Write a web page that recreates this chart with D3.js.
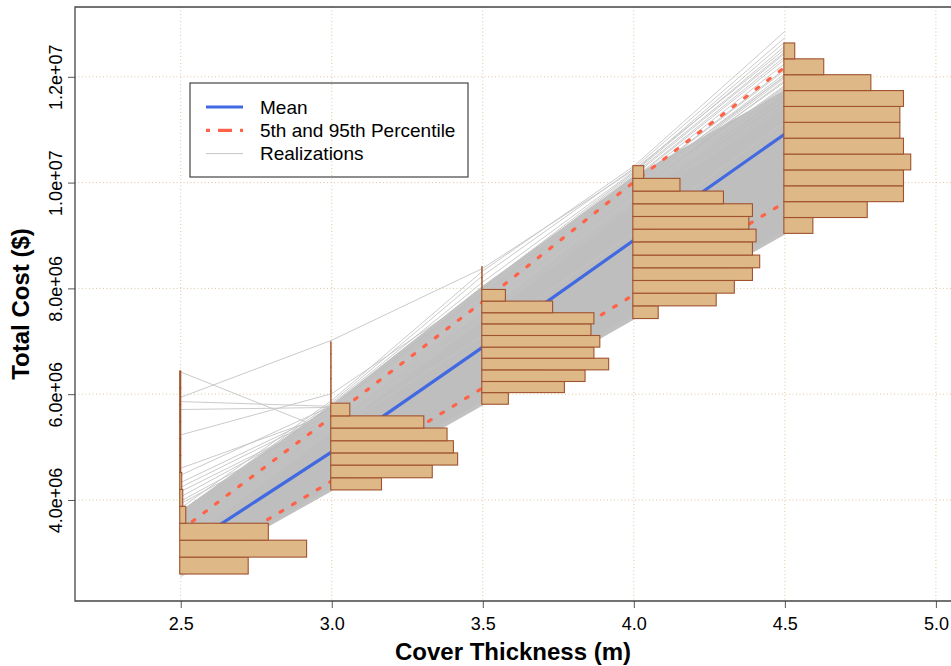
<!DOCTYPE html>
<html>
<head>
<meta charset="utf-8">
<script src="https://cdn.jsdelivr.net/npm/d3@7"></script>
<style>
  body { margin: 0; background: #fff; }
  svg { display: block; font-family: "Liberation Sans", Arial, sans-serif; }
</style>
</head>
<body>
<svg id="chart"></svg>
<script>
// all costs are in millions of dollars
const thickness = [2.5, 3.0, 3.5, 4.0, 4.5];
const meanCost = [3.05, 4.91, 6.89, 8.91, 10.92];
const p05Cost = [2.64, 4.36, 6.12, 7.88, 9.63];
const p95Cost = [3.43, 5.57, 7.75, 10.01, 12.18];

// envelope of the dense bundle of realizations
const bundleLow = [2.57, 4.17, 5.79, 7.41, 9.02];
const bundleHigh = [3.80, 5.80, 8.05, 10.12, 11.75];

// individual realizations that show outside / at the edge of the bundle
const realizations = [
  [6.42, 5.28, 7.10, 9.05, 11.15],
  [5.94, 7.02, 8.38, 10.24, 12.52],
  [5.86, 5.77, 7.62, 9.72, 11.82],
  [5.71, 5.75, 7.55, 9.66, 11.73],
  [5.23, 6.01, 7.95, 10.08, 12.38],
  [4.60, 5.63, 7.71, 9.86, 12.02],
  [4.47, 5.78, 7.98, 10.16, 12.47],
  [4.33, 5.69, 7.80, 9.97, 12.15],
  [4.24, 5.66, 7.74, 9.90, 12.06],
  [4.16, 5.58, 7.66, 9.82, 11.93],
  [4.06, 5.61, 7.69, 9.85, 11.98],
  [3.98, 5.52, 7.60, 9.76, 11.84],
  [3.93, 5.46, 7.56, 9.71, 11.77],
  [3.85, 5.88, 8.33, 10.31, 12.86],
  [3.78, 5.84, 8.24, 10.27, 12.74],
  [3.72, 5.81, 8.12, 10.21, 12.66],
  [3.66, 5.74, 8.02, 10.19, 12.58],
  [3.61, 5.70, 7.93, 10.13, 12.44],
  [3.57, 5.67, 7.87, 10.06, 12.33],
  [3.52, 5.62, 7.83, 10.02, 12.25],
  [3.49, 5.59, 7.77, 9.96, 12.12],
  [3.44, 5.54, 7.72, 9.93, 12.01],
  [3.40, 5.51, 7.68, 9.87, 11.90],
  [3.35, 5.47, 7.63, 9.80, 11.79],
  [3.31, 5.42, 7.57, 9.74, 11.68],
  [3.26, 5.37, 7.51, 9.69, 11.59],
  [3.22, 5.33, 7.46, 9.63, 11.50],
  [3.17, 5.29, 7.42, 9.58, 11.43],
  [2.58, 4.18, 5.80, 7.42, 9.03],
  [2.55, 4.20, 5.83, 7.45, 9.06],
  [2.61, 4.23, 5.86, 7.49, 9.10]
];

// histogram bin edges (bottom to top) and counts, one row per thickness
const histEdges = [
  [2.60, 2.92, 3.24, 3.56, 3.88, 4.20, 4.52, 4.84, 5.16, 5.48, 5.80, 6.12, 6.44],
  [4.19, 4.42, 4.66, 4.89, 5.12, 5.36, 5.59, 5.83, 6.06, 6.29, 6.52, 6.76, 6.99],
  [5.81, 6.03, 6.24, 6.46, 6.68, 6.89, 7.11, 7.33, 7.54, 7.76, 7.98, 8.20, 8.41],
  [7.43, 7.67, 7.91, 8.15, 8.39, 8.63, 8.88, 9.12, 9.36, 9.60, 9.84, 10.08, 10.32],
  [9.04, 9.34, 9.64, 9.94, 10.24, 10.54, 10.84, 11.14, 11.44, 11.74, 12.04, 12.34, 12.64]
];
const histCounts = [
  [68, 126, 88, 6, 3, 2, 1, 1, 1, 1, 1, 1],
  [24, 48, 60, 58, 55, 44, 9, 0, 0, 0, 0, 0],
  [9, 28, 35, 43, 38, 40, 37, 38, 24, 8, 0, 0],
  [7, 23, 28, 33, 35, 33, 34, 32, 33, 25, 13, 3],
  [8, 23, 33, 33, 35, 33, 32, 32, 33, 24, 11, 3]
];

const xTicks = [2.5, 3.0, 3.5, 4.0, 4.5, 5.0];
const xTickLabels = ['2.5', '3.0', '3.5', '4.0', '4.5', '5.0'];
const yTicks = [4, 6, 8, 10, 12];
const yTickLabels = ['4.0e+06', '6.0e+06', '8.0e+06', '1.0e+07', '1.2e+07'];

const legendLabels = ['Mean', '5th and 95th Percentile', 'Realizations'];

class CostPlot {

  constructor(_config) {
    this.config = {
      parentElement: _config.parentElement,
      containerWidth: _config.containerWidth || 951,
      containerHeight: _config.containerHeight || 666,
      margin: _config.margin || {top: 7, right: 0, bottom: 65, left: 75},
      histWidth: 0.42   // widest bar in x units
    };
    this.initVis();
  }

  initVis() {
    let vis = this;

    vis.width = vis.config.containerWidth - vis.config.margin.left - vis.config.margin.right;
    vis.height = vis.config.containerHeight - vis.config.margin.top - vis.config.margin.bottom;

    vis.xScale = d3.scaleLinear()
      .domain([2.15, 5.05])
      .range([0, vis.width]);

    vis.yScale = d3.scaleLinear()
      .domain([2.09, 13.32])
      .range([vis.height, 0]);

    vis.svg = d3.select(vis.config.parentElement)
      .attr('width', vis.config.containerWidth)
      .attr('height', vis.config.containerHeight);

    vis.chart = vis.svg.append('g')
      .attr('transform', `translate(${vis.config.margin.left},${vis.config.margin.top})`);

    vis.renderVis();
  }

  renderVis() {
    let vis = this;
    const x = vis.xScale, y = vis.yScale;

    // dotted grid
    const grid = vis.chart.append('g')
      .attr('stroke', '#dcc6a2')
      .attr('stroke-width', 1)
      .attr('stroke-dasharray', '1,2.5');
    grid.selectAll('.vgrid')
      .data(xTicks)
      .join('line')
      .attr('x1', d => x(d)).attr('x2', d => x(d))
      .attr('y1', 0).attr('y2', vis.height);
    grid.selectAll('.hgrid')
      .data(yTicks)
      .join('line')
      .attr('x1', 0).attr('x2', vis.width)
      .attr('y1', d => y(d)).attr('y2', d => y(d));

    // bundle of realizations
    const band = d3.area()
      .x((d, i) => x(thickness[i]))
      .y0((d, i) => y(bundleLow[i]))
      .y1((d, i) => y(bundleHigh[i]));
    vis.chart.append('path')
      .datum(thickness)
      .attr('d', band)
      .attr('fill', '#bebebe');

    const line = d3.line()
      .x((d, i) => x(thickness[i]))
      .y(d => y(d));

    vis.chart.selectAll('.real')
      .data(realizations)
      .join('path')
      .attr('class', 'real')
      .attr('d', line)
      .attr('fill', 'none')
      .attr('stroke', '#c4c4c4')
      .attr('stroke-width', 0.9);

    // percentile and mean lines
    [p05Cost, p95Cost].forEach(p => {
      vis.chart.append('path')
        .datum(p)
        .attr('d', line)
        .attr('fill', 'none')
        .attr('stroke', '#ff6347')
        .attr('stroke-width', 3.2)
        .attr('stroke-linecap', 'round')
        .attr('stroke-dasharray', '3,11.5');
    });

    vis.chart.append('path')
      .datum(meanCost)
      .attr('d', line)
      .attr('fill', 'none')
      .attr('stroke', '#4169e1')
      .attr('stroke-width', 3.2);

    // histograms at every thickness
    thickness.forEach((t, k) => {
      const edges = histEdges[k];
      const counts = histCounts[k];
      const maxCount = d3.max(counts);
      vis.chart.append('g')
        .selectAll('rect')
        .data(counts)
        .join('rect')
        .attr('x', x(t) - 1)
        .attr('y', (d, j) => y(edges[j + 1]))
        .attr('height', (d, j) => y(edges[j]) - y(edges[j + 1]))
        .attr('width', d => Math.max(0.3, x(t + vis.config.histWidth * d / maxCount) - x(t)))
        .attr('fill', '#deb887')
        .attr('stroke', '#a0522d')
        .attr('stroke-width', 1.1);
    });

    // axes
    const yAxis = d3.axisLeft(y)
      .tickValues(yTicks)
      .tickFormat((d, i) => yTickLabels[i])
      .tickSize(7)
      .tickPadding(7);
    const yAxisG = vis.chart.append('g').call(yAxis);
    yAxisG.select('.domain').remove();
    yAxisG.selectAll('line').attr('stroke', '#555');
    yAxisG.selectAll('text')
      .attr('transform', 'rotate(-90)')
      .attr('x', 0)
      .attr('y', -13.5)
      .attr('dy', 0)
      .attr('text-anchor', 'middle')
      .attr('fill', '#000')
      .style('font-size', '18px');

    const xAxis = d3.axisBottom(x)
      .tickValues(xTicks)
      .tickFormat((d, i) => xTickLabels[i])
      .tickSize(7)
      .tickPadding(9);
    const xAxisG = vis.chart.append('g')
      .attr('transform', `translate(0,${vis.height})`)
      .call(xAxis);
    xAxisG.select('.domain').remove();
    xAxisG.selectAll('line').attr('stroke', '#555');
    xAxisG.selectAll('text')
      .attr('fill', '#000')
      .style('font-size', '18px');

    // frame (left, top, bottom)
    vis.chart.append('path')
      .attr('d', `M${vis.width + 2},0H0V${vis.height}H${vis.width + 2}`)
      .attr('fill', 'none')
      .attr('stroke', '#444')
      .attr('stroke-width', 1.3);

    // axis titles
    vis.chart.append('text')
      .attr('x', vis.width / 2)
      .attr('y', vis.height + 59)
      .attr('text-anchor', 'middle')
      .style('font-size', '24px')
      .style('font-weight', 'bold')
      .text('Cover Thickness (m)');

    vis.chart.append('text')
      .attr('transform', `translate(-46,${vis.height / 2}) rotate(-90)`)
      .attr('text-anchor', 'middle')
      .style('font-size', '24px')
      .style('font-weight', 'bold')
      .text('Total Cost ($)');

    // legend
    const legend = vis.chart.append('g')
      .attr('transform', 'translate(115,76)');
    legend.append('rect')
      .attr('width', 278)
      .attr('height', 94)
      .attr('fill', 'none')
      .attr('stroke', '#444')
      .attr('stroke-width', 1.2);
    const rows = legend.selectAll('.row')
      .data(legendLabels)
      .join('g')
      .attr('transform', (d, i) => `translate(16,${24 + i * 23.3})`);
    rows.append('line')
      .attr('x1', 0).attr('x2', 37)
      .attr('stroke', (d, i) => ['#4169e1', '#ff6347', '#c4c4c4'][i])
      .attr('stroke-width', (d, i) => [3.2, 3.2, 1][i])
      .attr('stroke-dasharray', (d, i) => i === 1 ? '4,8,14,8,4' : null);
    rows.append('text')
      .attr('x', 54)
      .attr('dy', '0.35em')
      .style('font-size', '19px')
      .text(d => d);
  }
}

new CostPlot({parentElement: '#chart'});
</script>
</body>
</html>
